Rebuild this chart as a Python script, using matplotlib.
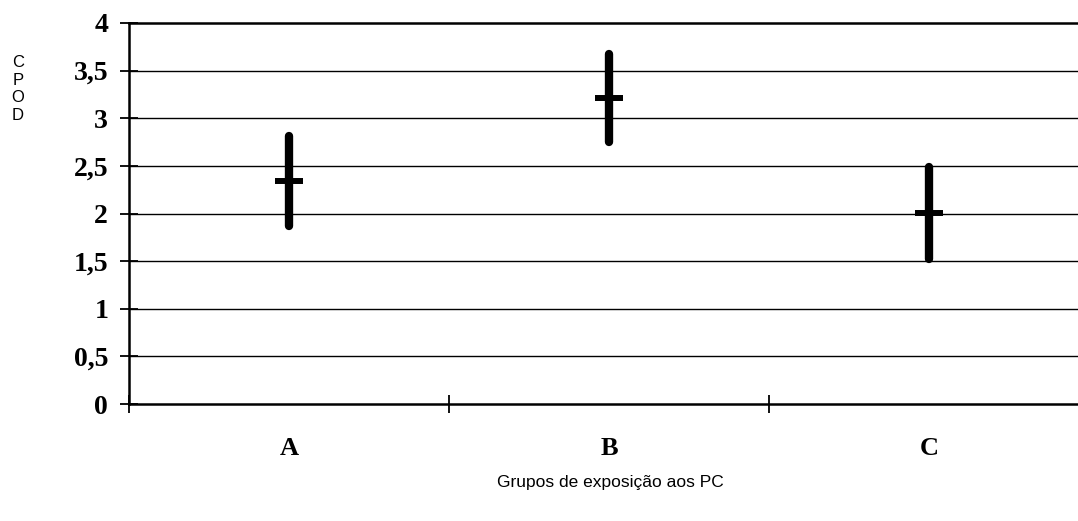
import matplotlib.pyplot as plt

# Dados
grupos = ['A', 'B', 'C']
media = [2.34, 3.21, 2.01]
minimo = [1.87, 2.75, 1.52]
maximo = [2.81, 3.67, 2.49]
y_ticks = [0, 0.5, 1, 1.5, 2, 2.5, 3, 3.5, 4]
y_labels = ['0', '0,5', '1', '1,5', '2', '2,5', '3', '3,5', '4']

W, H = 1078, 521
fig = plt.figure(figsize=(W / 100, H / 100), dpi=100)
# área do gráfico: passa um pouco da borda direita, como no original
ax = fig.add_axes([129 / W, (H - 404) / H, 960 / W, 381 / H])

pos = [0.5, 1.5, 2.5]
ax.vlines(pos, minimo, maximo, color='black', lw=6, capstyle='round', zorder=3)
ax.scatter(pos, media, marker='_', s=380, lw=4.3, color='black', zorder=4)

ax.set_xlim(0, 3)
ax.set_ylim(0, 4)
ax.set_yticks(y_ticks)
ax.set_yticklabels(y_labels, family='Liberation Serif', fontweight='bold', fontsize=20)
ax.set_xticks([0, 1, 2, 3])
ax.set_xticklabels([])
ax.set_xticks(pos, minor=True)
ax.set_xticklabels(grupos, minor=True, family='Liberation Serif', fontweight='bold', fontsize=19)
ax.tick_params(axis='x', which='minor', length=0, pad=24)
ax.tick_params(axis='both', which='major', direction='inout', length=13, width=1.3, color='black')
ax.tick_params(axis='y', pad=8.5)

for v in y_ticks[1:-1]:
    ax.axhline(v, color='black', lw=1, zorder=1)

for s in ['left', 'bottom', 'top']:
    ax.spines[s].set_linewidth(1.8)
ax.spines['right'].set_visible(False)

fig.text(18 / W, 1 - 89 / H, 'C\nP\nO\nD', family='Liberation Sans', fontsize=12,
         ha='center', va='center', linespacing=1.2)
fig.text(610 / W, 1 - 482 / H, 'Grupos de exposição aos PC', family='Liberation Sans',
         fontsize=12.5, ha='center', va='center')

fig.savefig('out.png', dpi=100)
